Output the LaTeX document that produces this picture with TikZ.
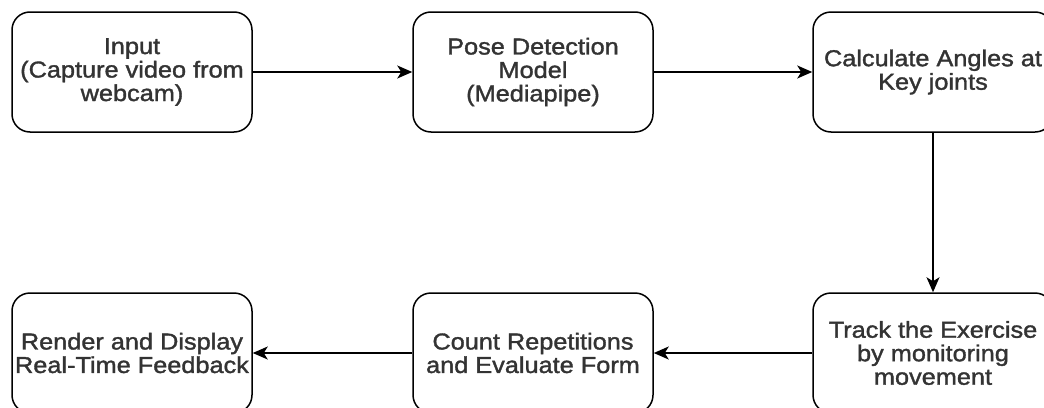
\documentclass[tikz,border=0pt]{standalone}
\usepackage{fontspec}
\setmainfont{Liberation Sans}[FakeStretch=1.1,FakeBold=1.5]
\usetikzlibrary{arrows.meta}
\begin{document}
\begin{tikzpicture}[x=1pt,y=-1pt,
  procbox/.style={draw=black, line width=1.5pt, rounded corners=18pt,
    minimum width=240pt, minimum height=120pt, inner sep=0pt,
    align=center, text=black!80,
    font=\fontsize{23}{23.5}\selectfont},
  flow/.style={draw=black, line width=1.5pt,
    -{Stealth[length=15pt,width=13pt,inset=4pt]}}]
  \useasboundingbox (0,0) rectangle (1044,407);
  % top row
  \node[procbox] (input) at (132,72) {Input\\(Capture video from\\webcam)};
  \node[procbox] (pose)  at (533,72) {Pose Detection\\Model\\(Mediapipe)};
  \node[procbox] (angle) at (933,72) {Calculate Angles at\\Key joints};
  % bottom row
  \node[procbox] (track)  at (933,353) {Track the Exercise\\by monitoring\\movement};
  \node[procbox] (count)  at (533,353) {Count Repetitions\\and Evaluate Form};
  \node[procbox] (render) at (132,353) {Render and Display\\Real-Time Feedback};
  % connectors
  \draw[flow] (input) -- (pose);
  \draw[flow] (pose) -- (angle);
  \draw[flow] (angle) -- (track);
  \draw[flow] (track) -- (count);
  \draw[flow] (count) -- (render);
\end{tikzpicture}
\end{document}
